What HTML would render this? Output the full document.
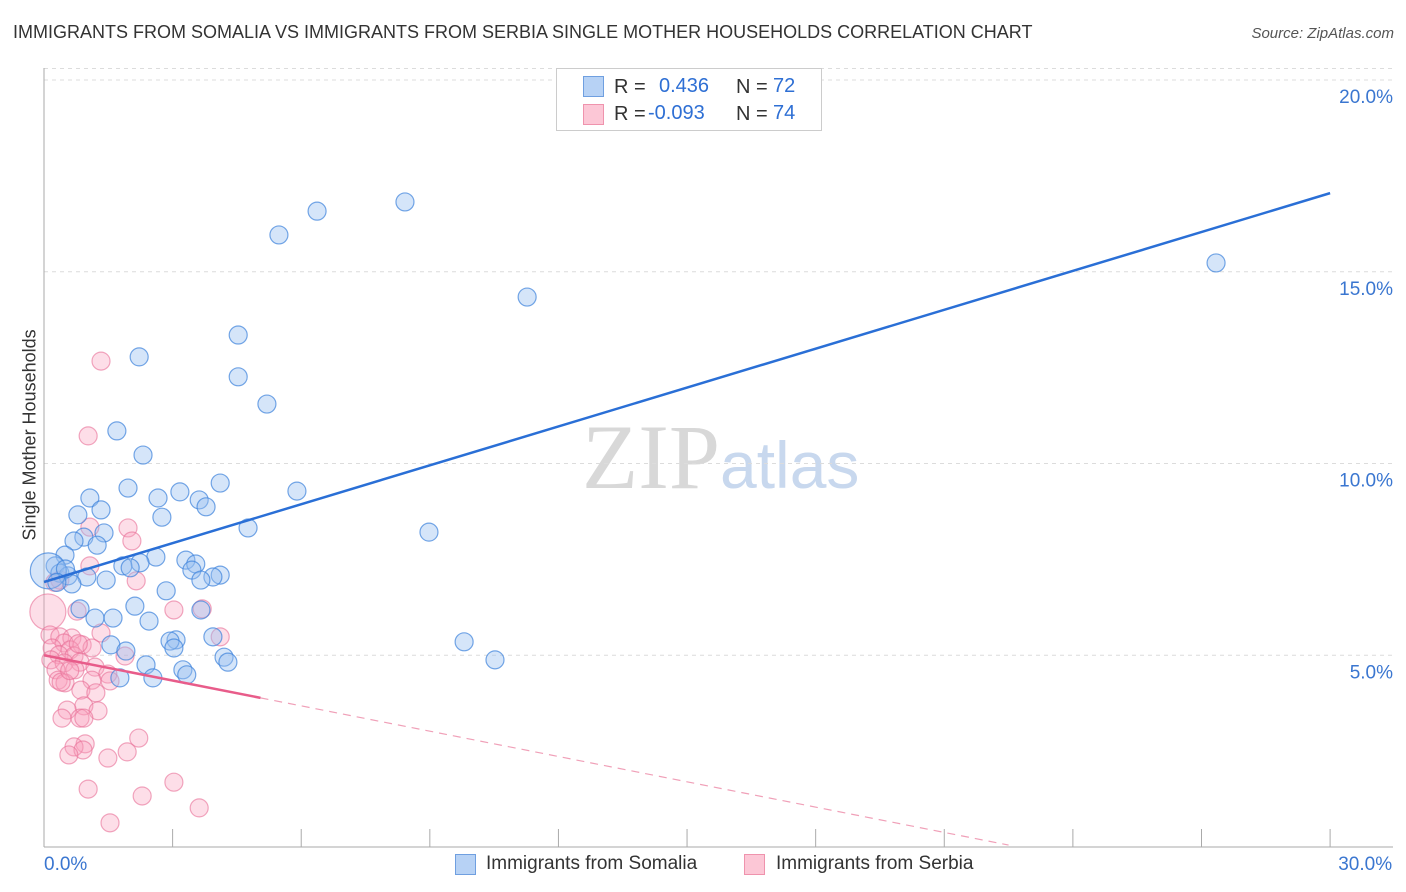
<!DOCTYPE html>
<html><head><meta charset="utf-8"><style>
body{margin:0;background:#fff;font-family:"Liberation Sans",sans-serif;}
#wrap{position:relative;width:1406px;height:892px;overflow:hidden;}
.t{position:absolute;white-space:nowrap;}
</style></head><body>
<div id="wrap">
<div class="t" style="left:13px;top:22px;font-size:18px;color:#333;">IMMIGRANTS FROM SOMALIA VS IMMIGRANTS FROM SERBIA SINGLE MOTHER HOUSEHOLDS CORRELATION CHART</div>
<div class="t" style="right:12px;top:25px;font-size:15px;color:#555;font-style:italic;">Source: ZipAtlas.com</div>
<svg id="svg" width="1406" height="892" style="position:absolute;left:0;top:0;">
<text x="720" y="488" text-anchor="end" font-family="Liberation Serif" font-size="92" fill="#d8d8d8">ZIP</text>
<text x="720" y="488" font-family="Liberation Sans" font-size="66" fill="#c8d8ee">atlas</text>
</svg>
<div style="position:absolute;left:556px;top:68px;width:264px;height:61px;border:1px solid #ccc;background:#fff;font-size:20px;">
 <div style="position:absolute;left:26px;top:7px;width:19px;height:19px;background:#b7d2f5;border:1px solid #6f9fe0;"></div>
 <div class="t" style="left:57px;top:7px;color:#333;">R =</div><div class="t" style="left:102px;top:6px;color:#2e6fd4;">0.436</div>
 <div class="t" style="left:179px;top:7px;color:#333;">N =</div><div class="t" style="left:216px;top:6px;color:#2e6fd4;">72</div>
 <div style="position:absolute;left:26px;top:35px;width:19px;height:19px;background:#fcc7d6;border:1px solid #ef93ad;"></div>
 <div class="t" style="left:57px;top:34px;color:#333;">R =</div><div class="t" style="left:91px;top:33px;color:#2e6fd4;">-0.093</div>
 <div class="t" style="left:179px;top:34px;color:#333;">N =</div><div class="t" style="left:216px;top:33px;color:#2e6fd4;">74</div>
</div>
<div class="t" style="left:-55px;top:445px;transform:rotate(-90deg);font-size:18px;color:#333;width:170px;text-align:center;">Single Mother Households</div>
<div style="position:absolute;left:455px;top:854px;width:19px;height:19px;background:#b7d2f5;border:1px solid #6f9fe0;"></div>
<div class="t" style="left:486px;top:853px;font-size:19px;color:#333;">Immigrants from Somalia</div>
<div style="position:absolute;left:744px;top:854px;width:19px;height:19px;background:#fcc7d6;border:1px solid #ef93ad;"></div>
<div class="t" style="left:776px;top:853px;font-size:19px;color:#333;">Immigrants from Serbia</div>
</div>
<script>
const xTicks=[0,3,6,9,12,15,18,21,24,27,30];
const yTicks=[5,10,15,20];
const yTickLabels=["5.0%","10.0%","15.0%","20.0%"];
const xTickLabels=["0.0%","30.0%"];
const somaliaX=[8.42,6.37,5.48,27.34,11.27,4.53,2.22,4.53,5.20,1.70,2.31,1.96,3.17,2.66,5.90,4.11,1.07,3.62,3.78,1.33,0.79,2.75,8.98,4.76,1.40,0.93,1.24,0.70,0.49,2.61,3.31,3.54,2.24,1.84,2.01,3.45,0.26,0.37,0.56,1.00,4.11,3.94,3.66,1.45,0.65,2.85,2.12,0.84,3.66,1.19,1.61,2.45,9.80,3.94,3.08,2.94,1.56,3.03,1.91,4.20,4.29,10.52,2.38,3.24,3.33,1.77,2.54,0.10,0.50,0.30];
const somaliaY=[16.82,16.58,15.96,15.23,14.34,13.35,12.78,12.26,11.55,10.85,10.22,9.36,9.26,9.10,9.28,9.49,9.10,9.05,8.87,8.79,8.66,8.60,8.21,8.32,8.19,8.08,7.87,7.98,7.61,7.56,7.48,7.38,7.41,7.33,7.28,7.22,7.33,7.14,7.07,7.04,7.09,7.04,6.96,6.96,6.86,6.68,6.28,6.21,6.18,5.97,5.97,5.89,5.35,5.48,5.40,5.37,5.27,5.19,5.11,4.95,4.82,4.88,4.75,4.62,4.49,4.41,4.41,7.20,7.25,6.90];
const serbiaX=[1.33,1.03,1.96,1.07,2.05,1.07,2.15,0.37,0.09,0.77,3.03,3.69,4.11,1.33,0.14,0.37,0.65,0.47,0.89,0.19,1.12,0.61,0.35,0.70,1.89,0.16,0.47,0.84,1.19,0.28,0.72,1.49,1.12,0.33,0.49,1.54,0.86,1.21,0.93,0.54,1.26,0.42,0.84,0.93,2.21,0.96,0.70,0.91,1.94,0.58,1.49,3.03,1.03,2.29,3.62,1.54,0.40,0.60,0.80,0.25];
const serbiaY=[12.67,10.72,8.32,8.34,7.98,7.33,6.94,6.96,6.13,6.15,6.18,6.21,5.48,5.58,5.53,5.48,5.45,5.32,5.27,5.19,5.19,5.14,5.01,4.98,4.98,4.88,4.80,4.82,4.69,4.62,4.62,4.51,4.35,4.35,4.28,4.33,4.09,4.02,3.68,3.57,3.55,3.36,3.36,3.36,2.84,2.69,2.61,2.53,2.48,2.40,2.32,1.69,1.51,1.33,1.02,0.63,4.30,4.60,5.30,6.90];
const somaliaTrend=[6.91,17.05];
const serbiaTrend=[5.0,-0.22];
const xs=v=>44+v*42.87, ys=v=>847-v*38.35;
const svg=document.getElementById('svg'),NS='http://www.w3.org/2000/svg';
function mk(t,a){const e=document.createElementNS(NS,t);for(const k in a)e.setAttribute(k,a[k]);svg.appendChild(e);return e;}
yTicks.forEach((v,i)=>{
 const g=mk('line',{x1:44,x2:1393,y1:ys(v),y2:ys(v),stroke:'#dcdcdc','stroke-dasharray':'4,4'});
 
 
 const t=mk('text',{x:1393,y:ys(v)+23,'text-anchor':'end','font-size':19,fill:'#3a76d0','font-family':'Liberation Sans'});
 t.textContent=yTickLabels[i];
 
 
});
mk('line',{x1:44,x2:1393,y1:ys(20.3),y2:ys(20.3),stroke:'#dcdcdc','stroke-dasharray':'4,4'});
const ax=mk('line',{x1:44,x2:1393,y1:847,y2:847,stroke:'#aaa'});


const ay=mk('line',{x1:44,x2:44,y1:68,y2:847,stroke:'#aaa'});


xTicks.forEach(v=>{const l=mk('line',{x1:xs(v),x2:xs(v),y1:829,y2:847,stroke:'#aaa'});
 
 });
[[0,'start'],[30,'end']].forEach(([v,a],i)=>{const t=mk('text',{x:xs(v)+(i?62:0),y:870,'text-anchor':a,'font-size':19,fill:'#3a76d0','font-family':'Liberation Sans'});
 t.textContent=xTickLabels[i];
 
 });
serbiaX.forEach((x,i)=>{const r=(i==8)?18:9;const c=mk('circle',{cx:xs(x),cy:ys(serbiaY[i]),r:r,fill:'rgba(248,160,188,0.35)',stroke:'rgba(232,110,150,0.6)','stroke-width':1.2});
 
 });
somaliaX.forEach((x,i)=>{const r=(i==67)?18:9;const c=mk('circle',{cx:xs(x),cy:ys(somaliaY[i]),r:r,fill:'rgba(150,190,240,0.4)',stroke:'rgba(60,130,220,0.7)','stroke-width':1.2});
 
 });
const bl=mk('line',{x1:xs(0),y1:ys(somaliaTrend[0]),x2:xs(30),y2:ys(somaliaTrend[1]),stroke:'#2a6fd6','stroke-width':2.5});


const sy=x=>serbiaTrend[0]+serbiaTrend[1]*x;
const pl=mk('line',{x1:xs(0),y1:ys(sy(0)),x2:xs(5.05),y2:ys(sy(5.05)),stroke:'#e85c8a','stroke-width':2.5});


const pd=mk('line',{x1:xs(5.05),y1:ys(sy(5.05)),x2:xs(22.5),y2:ys(sy(22.5)),stroke:'#f0a0b8','stroke-width':1.2,'stroke-dasharray':'8,6'});


</script>
</body></html>
